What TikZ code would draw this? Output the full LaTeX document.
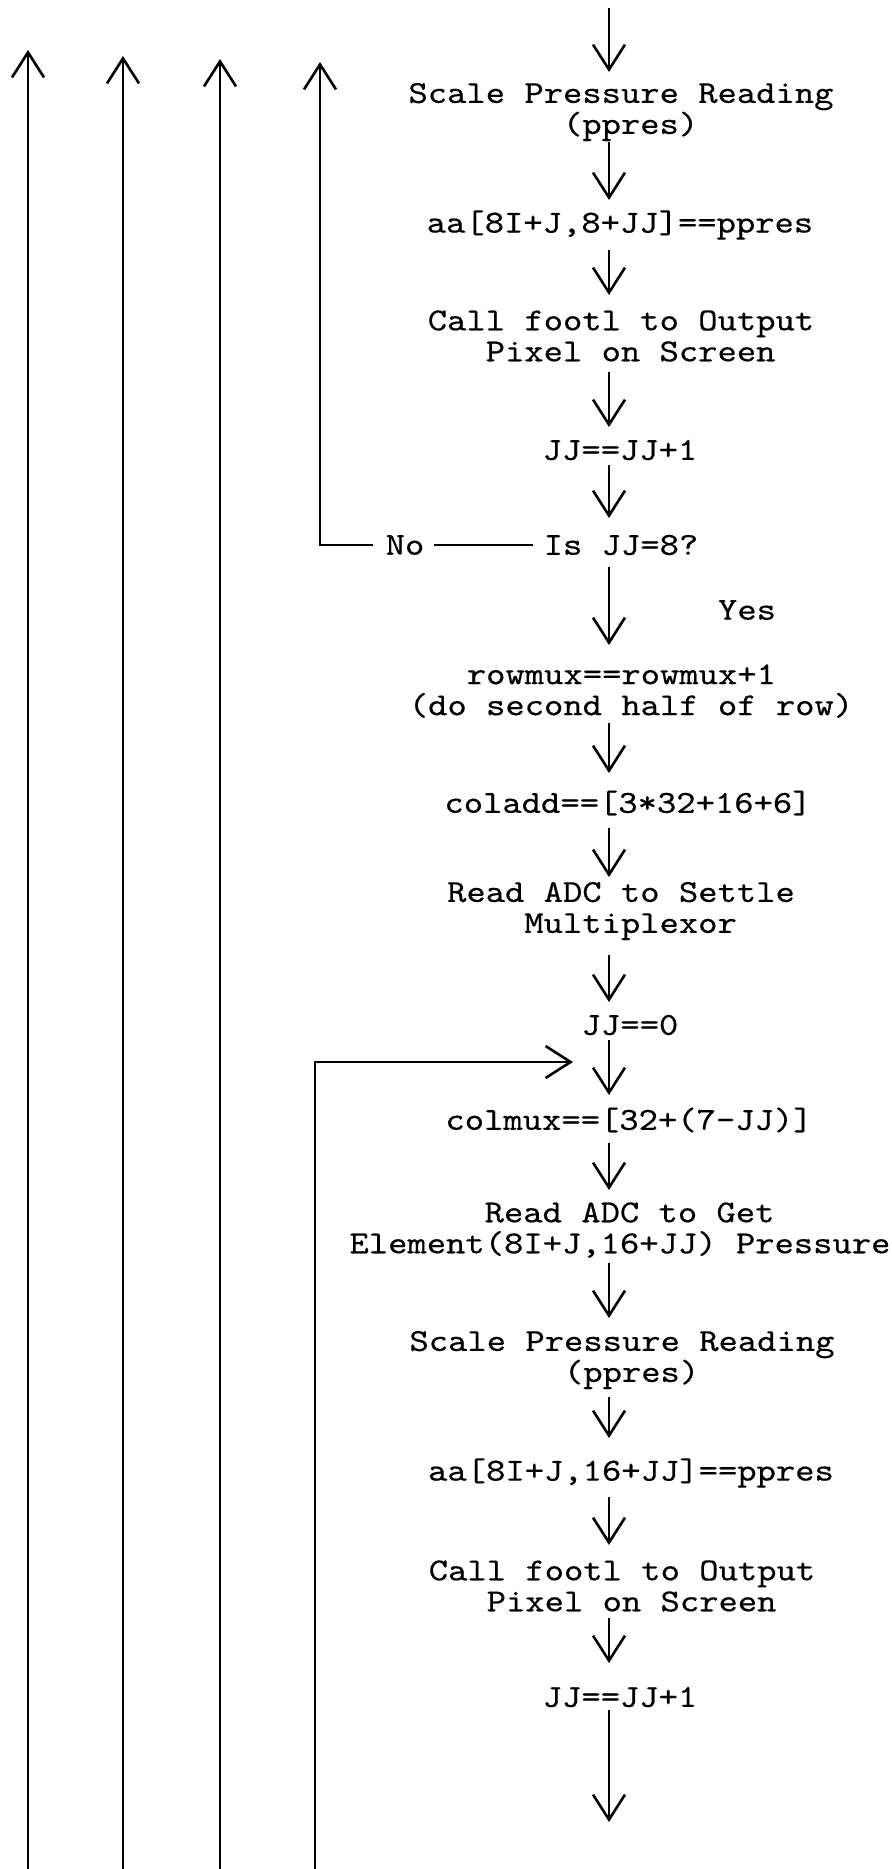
\documentclass[tikz,border=0pt]{standalone}
\usepackage{fontspec}
\newfontfamily\cour{lmmono10-regular.otf}[FakeStretch=1.15,FakeBold=0.4]
\usetikzlibrary{arrows.meta,calc}
\newcommand{\sh}{\makebox[0.6em]{}}
\begin{document}
\begin{tikzpicture}[x=0.5pt,y=-0.5pt,
  lbl/.style={font=\cour\fontsize{16}{15.5}\selectfont, inner sep=0pt, align=center},
  ln/.style={line width=1.1pt},
  arr/.style={line width=1.1pt, -{Straight Barb[length=12.5pt,width=16pt,line width=1.3pt]}}]
\useasboundingbox (0,0) rectangle (892,1869);
\newcommand{\flow}[4]{\draw[arr] ($(#1.center -| col)+(0,#2)$) -- ($(#3.center -| col)+(0,#4)$);}

\coordinate (col) at (609,0);
\coordinate (top) at (609,8);
\coordinate (endc) at (609,1822);

% main column texts
\node[lbl] (spr1) at (621,112) {Scale Pressure Reading\\\sh(ppres)};
\node[lbl] (aa1) at (620,225) {aa[8I+J,8+JJ]==ppres};
\node[lbl] (call1) at (621,336) {Call footl to Output\\\sh Pixel on Screen};
\node[lbl] (jj1) at (620,450) {JJ==JJ+1};
\node[lbl] (isjj) at (621,545) {Is JJ=8?};
\node[lbl] (no) at (405,545) {No};
\node[lbl] (yes) at (747,610) {Yes};
\node[lbl] (rowmux) at (631,691) {rowmux==rowmux+1\sh\\(do second half of row)};
\node[lbl] (coladd) at (628,803) {coladd==[3*32+16+6]};
\node[lbl] (rads) at (621,911) {Read ADC to Settle\\\sh Multiplexor};
\node[lbl] (jj0) at (630,1025) {JJ==0};
\node[lbl] (colmux) at (629,1120) {colmux==[32+(7-JJ)]};
\node[lbl] (radg) at (620,1230) {\sh Read ADC to Get\\Element(8I+J,16+JJ) Pressure};
\node[lbl] (spr2) at (622,1360) {Scale Pressure Reading\\\sh(ppres)};
\node[lbl] (aa2) at (631,1473) {aa[8I+J,16+JJ]==ppres};
\node[lbl] (call2) at (622,1586) {Call footl to Output\\\sh Pixel on Screen};
\node[lbl] (jj2) at (620,1697) {JJ==JJ+1};

% main flow arrows
\draw[arr] (top) -- ($(spr1.center -| col)+(0,-40)$);
\flow{spr1}{30}{aa1}{-25}
\flow{aa1}{25}{call1}{-41}
\flow{call1}{36}{jj1}{-23}
\flow{jj1}{15}{isjj}{-27}
\flow{isjj}{22}{rowmux}{-46}
\flow{rowmux}{32}{coladd}{-30}
\flow{coladd}{25}{rads}{-34}
\flow{rads}{44}{jj0}{-23}
\flow{jj0}{15}{colmux}{-25}
\flow{colmux}{23}{radg}{-40}
\flow{radg}{33}{spr2}{-42}
\flow{spr2}{37}{aa2}{-35}
\flow{aa2}{24}{call2}{-41}
\flow{call2}{32}{jj2}{-34}
\draw[arr] ($(jj2.center -| col)+(0,13)$) -- (endc);

% "No" branch
\coordinate (c4) at (320,545);
\coordinate (l4t) at (320,62);
\draw[ln] ($(no.east)+(9,0)$) -- ($(no.east -| isjj.west)+(-10,0)$);
\draw[arr] ($(no.west)+(-12,0)$) -- (c4) -- (l4t);

% feedback loop into colmux
\coordinate (fbb) at (315,1869);
\coordinate (fbt) at (573,1062);
\draw[arr] (fbb) |- (fbt);

% outer return lines
\coordinate (l1b) at (28,1869);
\coordinate (l1t) at (28,50);
\coordinate (l2b) at (123,1869);
\coordinate (l2t) at (123,56);
\coordinate (l3b) at (220,1869);
\coordinate (l3t) at (220,59);
\draw[arr] (l1b) -- (l1t);
\draw[arr] (l2b) -- (l2t);
\draw[arr] (l3b) -- (l3t);
\end{tikzpicture}
\end{document}
